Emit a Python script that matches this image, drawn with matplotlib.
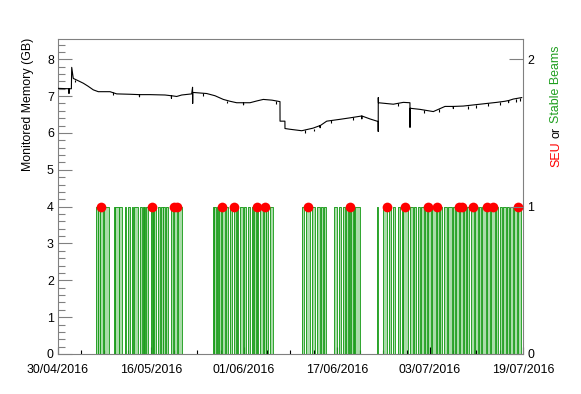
import matplotlib
matplotlib.use("Agg")
import matplotlib.pyplot as plt
import matplotlib.dates as mdates
from matplotlib.ticker import AutoMinorLocator, FixedLocator
import datetime as dt

plt.rcParams['font.family'] = ['Liberation Sans', 'DejaVu Sans']

# ---------------- data ----------------
base_date = dt.datetime(2016, 4, 30)   # day 0
x_span_days = 80                        # 30/04/2016 -> 19/07/2016
label_days = [0, 16, 32, 48, 64, 80]

# monitored memory (GB) vs days since base_date
mem_days = [0, 1.85, 1.89, 1.93, 2.30, 2.36, 2.63, 3.44, 4.35, 5.16, 6.07, 6.93,
            7.91, 8.95, 10.10, 12.39, 14.0, 14.02, 14.04, 15.83, 18.41, 19.5, 19.52, 19.54,
            20.42, 21.28, 23.00, 23.15, 23.17, 23.19, 25.58, 27.01, 28.44, 29.59,
            30.74, 31.9, 31.92, 31.94, 33.03, 34.24, 35.32, 36.82, 38.19, 38.20, 39.04, 39.05,
            39.91, 41.93, 43.87, 45.08, 45.10, 45.12, 46.23, 48.52, 50.24, 52.25, 52.27, 52.29,
            53.68, 55.08, 55.09, 55.10, 55.12, 57.69, 59.41, 60.55, 60.56,
            60.58, 62.28, 64.57, 66.58, 68.0, 68.02, 68.04, 69.73, 72.60, 75.47, 76.90,
            77.5, 77.52, 77.54, 78.33, 79.78]
mem_gb = [7.21, 7.20, 7.07, 7.20, 7.20, 7.78, 7.48, 7.42, 7.35, 7.27, 7.17, 7.12,
          7.12, 7.12, 7.06, 7.05, 7.04, 6.98, 7.04, 7.04, 7.03, 7.01, 6.94, 7.01,
          6.99, 7.03, 7.06, 7.24, 6.80, 7.10, 7.07, 7.01, 6.91, 6.86,
          6.82, 6.82, 6.76, 6.82, 6.82, 6.87, 6.91, 6.89, 6.85, 6.32, 6.32, 6.12,
          6.10, 6.06, 6.13, 6.20, 6.14, 6.20, 6.32, 6.37, 6.41, 6.46, 6.38, 6.46,
          6.38, 6.31, 6.04, 6.96, 6.82, 6.78, 6.83, 6.82, 6.15,
          6.67, 6.64, 6.58, 6.72, 6.72, 6.66, 6.72, 6.73, 6.78, 6.83, 6.86,
          6.88, 6.82, 6.88, 6.92, 6.96]

# small downward glitches on the memory curve (day, top GB, bottom GB)
glitch_days = [3.0, 9.5, 25.0, 29.0, 37.5, 42.5, 44.0, 47.0, 50.8, 58.5, 63.0,
               65.5, 70.5, 72.0, 74.0, 76.0, 78.8, 79.4]
glitch_top = [7.45, 7.12, 7.08, 6.88, 6.87, 6.08, 6.12, 6.34, 6.42, 6.80, 6.62,
              6.64, 6.74, 6.77, 6.80, 6.84, 6.93, 6.95]
glitch_bottom = [7.37, 7.04, 7.00, 6.80, 6.79, 6.00, 6.04, 6.26, 6.34, 6.72, 6.54,
                 6.56, 6.66, 6.69, 6.72, 6.76, 6.85, 6.87]

# stable beams periods (start, end) in days since base_date
beam_start = [6.54, 6.88, 7.23, 7.83, 9.55, 9.89, 10.49, 11.53, 11.96, 12.73, 13.08,
              14.11, 14.54, 14.80, 15.14, 16.00, 16.26, 16.52, 17.20, 17.72, 18.06,
              18.58, 19.44, 19.96, 20.56,
              26.67, 26.92, 27.27, 27.70, 28.22, 28.90, 29.59, 30.28, 30.80, 31.31,
              32.00, 32.69, 33.38, 33.72, 34.24, 34.75, 35.44, 35.87, 36.47,
              41.93, 42.67, 43.78, 44.56, 45.25, 45.68, 47.48, 48.34, 49.03, 49.55,
              49.98, 50.41, 50.84, 51.10,
              54.88,
              55.91, 57.03, 57.63, 58.49, 59.10, 59.44, 60.56, 61.25, 61.94, 62.45,
              63.14, 63.66, 64.34, 65.20, 65.72, 66.41, 67.10, 68.04, 68.47, 69.08,
              69.85, 70.45, 71.05, 71.74, 72.43, 72.95, 73.81, 74.49, 75.35, 75.96,
              76.56, 77.25, 77.76, 78.45, 79.14]
beam_end = [6.80, 7.14, 7.74, 8.69, 9.81, 10.41, 11.01, 11.78, 12.39, 12.90, 13.76,
            14.45, 14.71, 15.05, 15.48, 16.17, 16.43, 16.86, 17.55, 17.98, 18.41,
            18.84, 19.70, 20.47, 21.33,
            26.84, 27.18, 27.53, 28.04, 28.73, 29.25, 29.94, 30.62, 30.97, 31.83,
            32.34, 33.03, 33.55, 34.06, 34.49, 35.27, 35.70, 36.13, 36.99,
            42.32, 43.44, 44.30, 44.99, 45.59, 46.11, 48.00, 48.77, 49.38, 49.89,
            50.32, 50.75, 51.01, 51.96,
            54.97,
            56.60, 57.29, 57.98, 58.92, 59.27, 60.21, 60.99, 61.59, 62.28, 62.97,
            63.48, 64.17, 65.03, 65.55, 65.98, 66.92, 67.78, 68.30, 68.99, 69.68,
            70.19, 70.71, 71.57, 72.26, 72.77, 73.63, 74.32, 75.18, 75.70, 76.39,
            77.08, 77.59, 78.28, 78.97, 79.74]

# single event upsets (days since base_date)
seu_days = [7.40, 16.23, 19.97, 20.53, 28.18, 30.34, 34.20, 35.63, 43.08, 50.26,
            56.68, 59.78, 63.63, 65.18, 69.07, 69.48, 71.38, 73.79, 74.92, 79.12]

# right-axis scale: 1 on the right axis == 4 GB on the left axis
right_scale = 4.0
y_max_gb = 8.55

# ---------------- plotting ----------------
d0 = mdates.date2num(base_date)
to_x = lambda days: [d0 + d for d in days]

fig = plt.figure(figsize=(5.81, 3.94), dpi=100)
ax = fig.add_axes([58 / 581, 1 - 354 / 394, 465 / 581, 315 / 394])

green_line = '#1e9e1e'
green_fill = '#aadcaa'
grey = '#808080'

# step representation of stable beams
sx = [0.0]
sy = [0.0]
for s, e in zip(beam_start, beam_end):
    sx += [s, e]
    sy += [right_scale, 0.0]
sx.append(x_span_days)
sy.append(0.0)
ax.fill_between(to_x(sx), sy, step='post', color=green_fill, linewidth=0, zorder=1)
ax.step(to_x(sx), sy, where='post', color=green_line, linewidth=0.65, zorder=2, clip_on=False)

ax.plot(to_x(mem_days), mem_gb, color='black', linewidth=0.8, zorder=3)
ax.vlines(to_x(glitch_days), glitch_bottom, glitch_top, color='black', linewidth=0.8, zorder=3)

ax.plot(to_x(seu_days), [right_scale] * len(seu_days), 'o', color='#ff0000',
        markersize=7, markeredgewidth=0, zorder=4)

ax.set_xlim(d0, d0 + x_span_days)
ax.set_ylim(0, y_max_gb)

ax.xaxis.set_major_locator(FixedLocator(to_x(label_days)))
ax.xaxis.set_minor_locator(FixedLocator(to_x(range(0, x_span_days + 1, 4))))
ax.xaxis.set_major_formatter(mdates.DateFormatter('%d/%m/%Y'))
ax.yaxis.set_minor_locator(AutoMinorLocator(5))

fs = 8.9
ax.tick_params(axis='x', which='major', direction='in', length=5, width=0.8,
               color='black', labelsize=fs, pad=7)
ax.tick_params(axis='x', which='minor', direction='in', length=3, width=0.8, color='black')
ax.tick_params(axis='y', which='major', direction='in', length=10, width=0.8,
               color=grey, labelsize=fs, pad=3)
ax.tick_params(axis='y', which='minor', direction='in', length=5, width=0.8, color=grey)
for sp in ax.spines.values():
    sp.set_color(grey)
    sp.set_linewidth(0.8)

ax2 = ax.twinx()
ax2.set_position(ax.get_position())
ax2.set_ylim(0, y_max_gb / right_scale)
ax2.set_yticks([0, 1, 2])
ax2.tick_params(axis='y', which='major', direction='in', length=10, width=0.8,
                color=grey, labelsize=fs, pad=3)
for sp in ax2.spines.values():
    sp.set_visible(False)

fig.text(28 / 581, 1 - 38 / 394, 'Monitored Memory (GB)', rotation=90,
         ha='center', va='top', fontsize=fs)

t1 = fig.text(556 / 581, 1 - 167 / 394, 'SEU', rotation=90, ha='center', va='bottom',
              fontsize=fs, color='#ff0000')
t2 = ax.annotate('or', xy=(0.5, 1), xycoords=t1, xytext=(0, 2.5), textcoords='offset points',
                 rotation=90, ha='center', va='bottom', fontsize=fs, color='black',
                 annotation_clip=False)
t3 = ax.annotate('Stable Beams', xy=(0.5, 1), xycoords=t2, xytext=(0, 2.5),
                 textcoords='offset points', rotation=90, ha='center', va='bottom',
                 fontsize=fs, color='#1e9e1e', annotation_clip=False)

fig.savefig('out.png', dpi=100)
